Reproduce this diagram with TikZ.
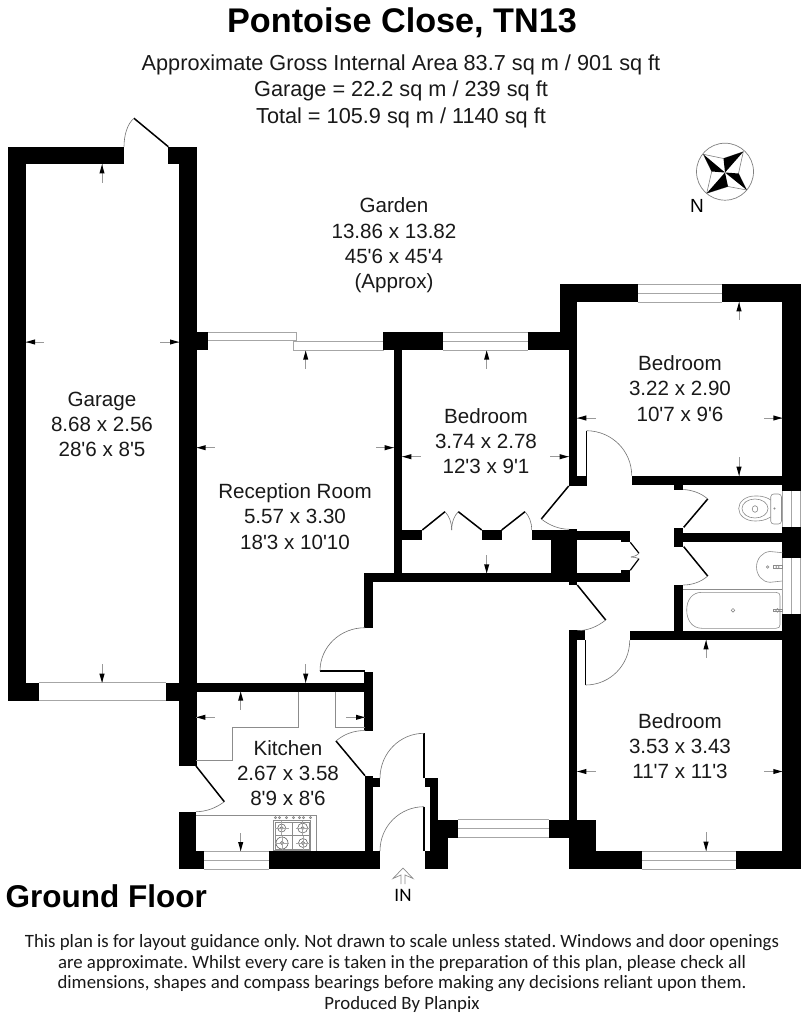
\documentclass[tikz,border=0pt]{standalone}
\usepackage{fontspec}
\setmainfont[Ligatures=TeXOff]{Liberation Sans}
\newfontfamily\footfont{Carlito}
\frenchspacing
\tikzset{
  wall/.style={fill=black,draw=none},
  leaf/.style={draw=black,line width=1.5pt},
  swing/.style={draw=black!55,line width=0.6pt},
  winline/.style={draw=black!35,line width=0.8pt},
  fixture/.style={draw=black!45,line width=0.6pt},
  stem/.style={draw=black!40,line width=0.6pt},
  tip/.style={fill=black,draw=none},
  lbl/.style={inner sep=0pt,align=center,font=\fontsize{20.6}{25.3}\selectfont,text=black!90}
}
\newcommand{\Wl}[4]{\fill[wall] (#1,#2) rectangle (#3,#4);}
\newcommand{\ArV}[3]{% x, tip y, tail y
  \draw[stem] (#1,#2) -- (#1,#3);
  \pgfmathsetmacro{\bb}{#2+(#3>#2?9:-9)}
  \fill[tip] (#1,#2) -- (#1-2.6,\bb) -- (#1+2.6,\bb) -- cycle;}
\newcommand{\ArH}[3]{% tip x, tail x, y
  \draw[stem] (#1,#3) -- (#2,#3);
  \pgfmathsetmacro{\bb}{#1+(#2>#1?9:-9)}
  \fill[tip] (#1,#3) -- (\bb,#3-2.6) -- (\bb,#3+2.6) -- cycle;}
\newcommand{\WinH}[3]{% x1 x2 y1 (height 18)
  \draw[winline] (#1,#3) -- (#2,#3) (#1,#3+9) -- (#2,#3+9) (#1,#3+18) -- (#2,#3+18);}
\begin{document}
\begin{tikzpicture}[x=1pt,y=-1pt]
\useasboundingbox (0,0) rectangle (808,1016);
\fill[white] (0,0) rectangle (808,1016);

% ---------- texts
\node[inner sep=0pt,font=\fontsize{34.2}{36}\bfseries\selectfont] (title) at (402,22.5) {Pontoise Close, TN13};
\node[inner sep=0pt,align=center,font=\fontsize{21.7}{26.5}\selectfont,text=black!90] (sub) at (401,91) {Approximate Gross Internal Area 83.7 sq m / 901 sq ft\\Garage = 22.2 sq m / 239 sq ft\\Total = 105.9 sq m / 1140 sq ft};
\node[lbl] (garden) at (394,245.5) {Garden\\13.86 x 13.82\\45'6 x 45'4\\(Approx)};
\node[lbl] (garage) at (102,424.5) {Garage\\8.68 x 2.56\\28'6 x 8'5};
\node[lbl] (reception) at (295,516.5) {Reception Room\\5.57 x 3.30\\18'3 x 10'10};
\node[lbl] (bed1) at (486,441) {Bedroom\\3.74 x 2.78\\12'3 x 9'1};
\node[lbl] (bed2) at (680,388.5) {Bedroom\\3.22 x 2.90\\10'7 x 9'6};
\node[lbl] (bed3) at (680,746) {Bedroom\\3.53 x 3.43\\11'7 x 11'3};
\node[lbl] (kitchen) at (288,773) {Kitchen\\2.67 x 3.58\\8'9 x 8'6};
\node[inner sep=0pt,anchor=west,font=\fontsize{31.5}{36}\bfseries\selectfont] (floor) at (5.5,896) {Ground Floor};
\node[inner sep=0pt,align=center,font=\footfont\fontsize{18.8}{20.7}\selectfont,text=black!90] (foot) at (402,973.5) {This plan is for layout guidance only. Not drawn to scale unless stated. Windows and door openings\\are approximate. Whilst every care is taken in the preparation of this plan, please check all\\dimensions, shapes and compass bearings before making any decisions reliant upon them.\\Produced By Planpix};
\node[inner sep=0pt,font=\footfont\fontsize{19}{20}\selectfont] (inlbl) at (403,895) {IN};
\node[inner sep=0pt,font=\fontsize{19}{20}\selectfont] (north) at (697,206) {N};

% ---------- windows and sliding door (behind walls)
\draw[winline] (38.7,682.7) -- (166,682.7) (38.7,700.7) -- (166,700.7);
\WinH{443.3}{527.7}{332.3}
\WinH{637.7}{722.3}{284.3}
\WinH{204}{268.7}{851}
\WinH{457.7}{549.3}{819.7}
\WinH{641.7}{736.3}{850.9}
\draw[winline] (782.3,491) -- (782.3,527) (791.5,491) -- (791.5,527) (800.7,491) -- (800.7,527);
\draw[winline] (782.3,558) -- (782.3,614) (791.5,558) -- (791.5,614) (800.7,558) -- (800.7,614);
\draw[winline] (207.5,332.3) rectangle (296.7,340.6);
\draw[winline] (293.3,341.4) rectangle (383.3,350);

% ---------- walls: garage
\Wl{8}{146.7}{124}{164.3}
\Wl{168.3}{146.7}{196.7}{164.3}
\Wl{8}{146.7}{26}{700.7}
\Wl{8}{682.7}{38.7}{700.7}
\Wl{166}{682.7}{196.7}{700.7}
\Wl{179}{146.7}{196.7}{766}
% reception top, bedroom 1
\Wl{196.7}{332.3}{207.5}{350}
\Wl{383.3}{332.3}{443.3}{350.3}
\Wl{527.7}{332.3}{577.3}{350.3}
\Wl{393.7}{350}{402.3}{575}
% upper bedroom
\Wl{559.7}{284.3}{637.7}{302.3}
\Wl{722.3}{284.3}{800.7}{302.3}
\Wl{559.7}{284.3}{577.3}{340}
\Wl{568.7}{340}{577.3}{486}
\Wl{568.7}{475.7}{586.7}{486}
\Wl{782.3}{284.3}{800.7}{491}
\Wl{631.7}{475.7}{782.3}{484.5}
\Wl{674.3}{480}{683.3}{490}
% bedroom 1 cupboard
\Wl{402.3}{530}{422.3}{539.7}
\Wl{481.7}{530}{501.7}{539.7}
\Wl{531.7}{530}{551}{539.7}
\Wl{551}{530}{577.3}{573.5}
\Wl{568.7}{529}{577.3}{585}
\Wl{364.3}{573.3}{577.3}{582.2}
% hall cupboard
\Wl{577.3}{530.7}{621}{539.7}
\Wl{621}{530.7}{630.3}{542.3}
\Wl{577.3}{573.3}{621}{582.2}
\Wl{621}{570.3}{630.3}{582.2}
% bathroom
\Wl{674.3}{528.3}{683.3}{546.7}
\Wl{683.3}{533.3}{782.3}{542.3}
\Wl{782.3}{527}{800.7}{558.3}
\Wl{674.3}{585}{683.3}{632}
\Wl{629.7}{631.3}{782.3}{640.3}
\Wl{782.3}{613.7}{800.7}{869.3}
% lower bedroom
\Wl{568.7}{630}{577.3}{869.3}
\Wl{568.7}{630}{585}{640.3}
\Wl{549.3}{819.5}{595.7}{837.7}
\Wl{568.7}{819.5}{595.7}{869.3}
\Wl{568.7}{850.7}{641.7}{869.3}
\Wl{736.3}{850.7}{800.7}{869.3}
% reception / hall
\Wl{364.3}{573.3}{373.3}{627.7}
\Wl{196.7}{682.7}{365}{691.7}
\Wl{364.3}{671.7}{373.3}{730.7}
% kitchen
\Wl{179}{811.7}{196}{869.3}
\Wl{179}{851}{204}{869.3}
\Wl{268.7}{851}{380}{869.3}
\Wl{365}{775.7}{373.3}{869.3}
\Wl{365}{778.3}{380}{787.3}
% entrance
\Wl{425}{778.3}{438.3}{787.3}
\Wl{430}{778.3}{438.3}{869.3}
\Wl{430}{820}{447.7}{869.3}
\Wl{438.3}{820}{457.7}{837.7}
\Wl{425}{851}{447.7}{869.3}

% ---------- door leaves and swings
\coordinate (gdh) at (168.3,146.7); \coordinate (gdt) at (134,118.3);
\draw[leaf] (gdh) -- (gdt);
\draw[swing] (gdt) .. controls (127,124) and (124,136) .. (124,146.7);
\draw[leaf] (586.7,475.7) -- (586.7,430.7);
\draw[swing] (586.7,430.7) .. controls (612,431) and (631.7,451) .. (631.7,475.7);
\draw[leaf] (568.7,486) -- (541.3,519);
\draw[swing] (541.3,519) .. controls (549,525) and (558,529) .. (569,529.3);
\draw[leaf] (683.7,527.3) -- (707.7,499);
\draw[swing] (707.7,499) .. controls (701,493) and (692,490) .. (683.3,489.5);
\draw[leaf] (683.7,546.7) -- (707.7,576);
\draw[swing] (707.7,576) .. controls (701,582) and (692,585) .. (683.3,585);
\draw[leaf] (577.3,585) -- (605.7,620);
\draw[swing] (605.7,620) .. controls (597,627) and (587,630.7) .. (577.3,630.7);
\draw[leaf] (585.7,640) -- (585.7,685);
\draw[swing] (585.7,685) .. controls (610,685) and (629.7,665) .. (629.7,640.3);
\draw[leaf] (422.3,530) -- (445,511.7);
\draw[swing] (445,511.7) .. controls (449,516) and (451.7,522) .. (451.7,530);
\draw[leaf] (481.7,530) -- (458.3,511.7);
\draw[swing] (458.3,511.7) .. controls (454,516) and (451.7,522) .. (451.7,530);
\draw[leaf] (501.7,530) -- (525,511.7);
\draw[swing] (525,511.7) .. controls (529,516) and (531.7,522) .. (531.7,530);
\draw[leaf,line width=1.2pt] (630.3,542.3) -- (639,553.3);
\draw[swing] (639,553.3) .. controls (636,556) and (634,556.5) .. (631,557);
\draw[leaf,line width=1.2pt] (630.3,570.3) -- (639,558.7);
\draw[swing] (639,558.7) .. controls (636,557.5) and (634,557) .. (631,557);
\draw[leaf] (320,671) -- (365,671);
\draw[swing] (320,671) .. controls (320,647) and (340,627.7) .. (365,627.7);
\draw[leaf] (365,775.7) -- (336,741);
\draw[swing] (336,741) .. controls (344,734) and (354,730.5) .. (365,730.5);
\draw[leaf] (196,766) -- (224.3,801.7);
\draw[swing] (224.3,801.7) .. controls (216,808) and (206,811.7) .. (196,811.7);
\draw[leaf] (424,778.3) -- (424,733.3);
\draw[swing] (424,733.3) .. controls (400,733.3) and (380,753) .. (380,778.3);
\draw[leaf] (424,851) -- (424,806.7);
\draw[swing] (424,806.7) .. controls (400,806.7) and (380,826) .. (380,851);

% ---------- kitchen fittings
\draw[fixture] (298.7,691.7) -- (298.7,727.3) -- (232.7,727.3) -- (232.7,760.7) -- (196,760.7);
\draw[fixture] (335.7,691.7) -- (335.7,727.3) -- (365,727.3);
\draw[fixture] (196,815) -- (316,815) -- (316,851);
\draw[fixture,line width=0.9pt] (273.3,820.7) rectangle (310.7,850);
\draw[fixture] (275,822) rectangle (309,849);
\draw[fixture] (275,835.5) -- (309,835.5) (292,822) -- (292,849);
\foreach \hx/\hy/\hr in {281.7/828/4, 302.7/828/5, 282/843/6, 303/843/4.5}{
  \draw[fixture,black!60] (\hx,\hy) circle (\hr);
  \draw[fixture,black!60] (\hx,\hy) circle (1.6);
  \draw[fixture,black!35] (\hx-7,\hy) -- (\hx+7,\hy) (\hx,\hy-7) -- (\hx,\hy+7);
}
\foreach \kx in {275,279,286,293,299,303,310}{\draw[fixture,black!50] (\kx+0.5,817.7) circle (1.1);}

% ---------- bathroom fittings
\draw[fixture] (683.3,589.3) -- (782.3,589.3);
\draw[fixture] (702,592.3) -- (776,592.3) .. controls (779,592.3) and (780,594) .. (780,596) -- (780,624.5) .. controls (780,627) and (779,628.3) .. (776,628.3) -- (702,628.3) .. controls (692,628.3) and (686.7,620) .. (686.7,610) .. controls (686.7,600) and (692,592.3) .. (702,592.3);
\draw[fixture] (733,610.3) circle (1.8);
\draw[fixture] (777.5,610.3) circle (1.8);
\draw[fixture] (773,608.9) rectangle (782,611.7);
\draw[fixture] (782.3,552.7) -- (770,551.5) .. controls (762,552) and (756.5,559) .. (756.5,567) .. controls (756.5,575) and (762,582) .. (770,582.3) -- (782.3,581);
\draw[fixture] (767.7,567) circle (1.3);
\draw[fixture] (777.5,567) circle (1.8);
\draw[fixture] (773,565.6) rectangle (782,568.4);
% WC
\draw[fixture] (770.7,500) .. controls (764,495.5) and (758,496) .. (755,496) .. controls (745,496) and (738.7,502) .. (738.7,508.5) .. controls (738.7,515) and (745,521) .. (755,521) .. controls (760,521) and (765,520.5) .. (770.7,517);
\draw[fixture] (755,499) .. controls (748,499) and (742,503) .. (742,508.5) .. controls (742,514) and (748,518) .. (755,518) .. controls (762,518) and (768,514) .. (768,508.5) .. controls (768,503) and (762,499) .. (755,499);
\draw[fixture] (755,509) ellipse (2.8 and 3.3);
\draw[fixture,rounded corners=3pt] (770.7,494) rectangle (781.5,524);
\draw[fixture] (774.5,508.5) circle (0.8);

% ---------- dimension arrows
\ArV{102}{164.5}{183}
\ArH{26}{44}{342}
\ArH{179}{160}{342}
\ArV{102}{682.7}{664}
\ArV{305.7}{350.7}{369}
\ArH{196.7}{215}{447.7}
\ArH{393.7}{376}{447.7}
\ArV{305.7}{682.7}{664}
\ArV{486.7}{350.5}{368.5}
\ArH{402.3}{421}{456.7}
\ArH{568.7}{550}{456.7}
\ArV{486.7}{573.3}{555}
\ArV{739}{302.3}{320}
\ArH{577.3}{596}{418}
\ArH{782.3}{764}{418}
\ArV{739}{475.7}{457}
\ArV{706}{640.3}{658}
\ArH{577.3}{596}{771.5}
\ArH{782.3}{764}{771.5}
\ArV{706}{850.7}{832}
\ArV{240.7}{691.7}{710}
\ArH{196.3}{215}{717.3}
\ArH{365}{346}{717.3}
\ArV{240.7}{851}{833}

% ---------- IN arrow
\draw[fixture,line width=0.7pt] (401,884) -- (401,875) -- (393,878.5) -- (403,868) -- (413,878.5) -- (405,875) -- (405,884);

% ---------- compass
\coordinate (cc) at (725,172.5);
\coordinate (ct) at (723.5,158.5); \coordinate (cr) at (738.5,173.5);
\coordinate (cb) at (728,186.5); \coordinate (cl) at (711.7,171.5);
\coordinate (ptl) at (703.3,154.3); \coordinate (ptr) at (743.3,151.7);
\coordinate (pbr) at (746.7,190); \coordinate (pbl) at (706.7,193.3);
\draw[fixture,black!50,line width=0.7pt] (725,171.7) circle (28.5);
\draw[fixture,black!50] (ptl) -- (ct) -- (ptr) -- (cr) -- (pbr) -- (cb) -- (pbl) -- (cl) -- cycle;
\fill[black] (ptl) -- (cc) -- (cl) -- cycle;
\fill[black] (ptr) -- (cc) -- (ct) -- cycle;
\fill[black] (pbr) -- (cc) -- (cr) -- cycle;
\fill[black] (pbl) -- (cc) -- (cb) -- cycle;
\end{tikzpicture}
\end{document}
